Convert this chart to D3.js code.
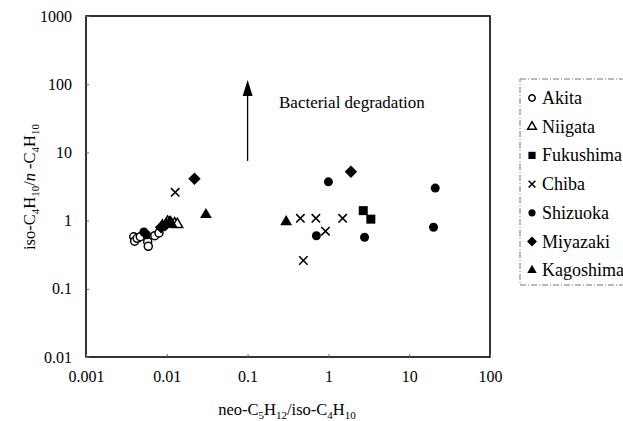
<!DOCTYPE html>
<html>
<head>
<meta charset="utf-8">
<script src="https://cdn.jsdelivr.net/npm/d3@7"></script>
<style>
body { margin: 0; background: #fff; }
text { font-family: "Liberation Serif", "Times New Roman", serif; fill: #000; }
</style>
</head>
<body>
<script>
// data
var xTicks = [0.001, 0.01, 0.1, 1, 10, 100];
var yTicks = [0.01, 0.1, 1, 10, 100, 1000];
var prefectures = ["Akita", "Niigata", "Fukushima", "Chiba", "Shizuoka", "Miyazaki", "Kagoshima"];

var akita = [[0.0039, 0.58], [0.0040, 0.50], [0.0043, 0.55], [0.0047, 0.58], [0.0058, 0.49], [0.0059, 0.42], [0.0071, 0.60], [0.0080, 0.66]];
var niigata = [[0.0102, 0.95], [0.0112, 0.92], [0.0125, 0.90], [0.0135, 0.88]];
var fukushima = [[2.7, 1.40], [3.35, 1.05]];
var chiba = [[0.0127, 2.6], [0.45, 1.08], [0.70, 1.08], [1.5, 1.08], [0.92, 0.70], [0.49, 0.26]];
var shizuoka = [[0.0052, 0.68], [0.0056, 0.62], [0.71, 0.60], [1.0, 3.7], [2.8, 0.57], [21, 3.0], [20, 0.80]];
var miyazaki = [[0.022, 4.1], [1.9, 5.2], [0.0085, 0.80], [0.0095, 0.85]];
var kagoshima = [[0.0305, 1.22], [0.30, 0.96], [0.0088, 0.85], [0.0098, 0.90], [0.0108, 0.95], [0.0115, 0.88]];
var arrowFrom = [0.1, 7.5];
var arrowTo = [0.1, 115];

var width = 623;
var height = 421;
var m = {left: 86, right: 133, top: 16, bottom: 64};
var serif = "Liberation Serif";

var svg = d3.select("body").append("svg")
	.attr("width", width)
	.attr("height", height);

var x = d3.scaleLog().domain([0.001, 100]).range([m.left, width - m.right]);
var y = d3.scaleLog().domain([0.01, 1000]).range([height - m.bottom, m.top]);

// frame
svg.append("rect")
	.attr("x", x(0.001)).attr("y", y(1000))
	.attr("width", x(100) - x(0.001)).attr("height", y(0.01) - y(1000))
	.attr("fill", "none").attr("stroke", "#000").attr("stroke-width", 1.6);

var fmt = function(d) { return String(d); };

var xAxis = svg.append("g")
	.attr("transform", "translate(0," + y(0.01) + ")")
	.call(d3.axisBottom(x).tickValues(xTicks).tickFormat(fmt).tickSizeInner(-3).tickSizeOuter(0).tickPadding(14));
var yAxis = svg.append("g")
	.attr("transform", "translate(" + x(0.001) + ",0)")
	.call(d3.axisLeft(y).tickValues(yTicks).tickFormat(fmt).tickSizeInner(-3).tickSizeOuter(0).tickPadding(14));
[xAxis, yAxis].forEach(function(g) {
	g.attr("font-family", serif);
	g.select(".domain").remove();
	g.selectAll(".tick line").attr("stroke", "#666");
	g.selectAll("text").attr("font-size", 16).attr("font-family", serif);
});

// axis titles
var xt = svg.append("text")
	.attr("x", 287).attr("y", 415)
	.attr("text-anchor", "middle").attr("font-size", 16.5).attr("font-family", serif);
xt.append("tspan").text("neo-C");
xt.append("tspan").text("5").attr("font-size", 11).attr("dy", 4);
xt.append("tspan").text("H").attr("dy", -4);
xt.append("tspan").text("12").attr("font-size", 11).attr("dy", 4);
xt.append("tspan").text("/iso-C").attr("dy", -4);
xt.append("tspan").text("4").attr("font-size", 11).attr("dy", 4);
xt.append("tspan").text("H").attr("dy", -4);
xt.append("tspan").text("10").attr("font-size", 11).attr("dy", 4);

var yt = svg.append("text")
	.attr("transform", "translate(35,187) rotate(-90)")
	.attr("text-anchor", "middle").attr("font-size", 16.5).attr("font-family", serif);
yt.append("tspan").text("iso-C");
yt.append("tspan").text("4").attr("font-size", 11).attr("dy", 4);
yt.append("tspan").text("H").attr("dy", -4);
yt.append("tspan").text("10").attr("font-size", 11).attr("dy", 4);
yt.append("tspan").text("/").attr("dy", -4);
yt.append("tspan").text("n").attr("font-style", "italic");
yt.append("tspan").text(" -C");
yt.append("tspan").text("4").attr("font-size", 11).attr("dy", 4);
yt.append("tspan").text("H").attr("dy", -4);
yt.append("tspan").text("10").attr("font-size", 11).attr("dy", 4);

// markers
function shape(name, s) {
	if (name == "Akita" || name == "Shizuoka") return d3.symbol(d3.symbolCircle, s * s * Math.PI / 4)();
	if (name == "Niigata" || name == "Kagoshima") return d3.symbol(d3.symbolTriangle, s * s * 0.5)();
	if (name == "Fukushima") return d3.symbol(d3.symbolSquare, s * s)();
	if (name == "Miyazaki") { var h = s * 0.62; return "M0," + (-h) + "L" + h + ",0L0," + h + "L" + (-h) + ",0Z"; }
	var c = s * 0.42;
	return "M" + (-c) + "," + (-c) + "L" + c + "," + c + "M" + c + "," + (-c) + "L" + (-c) + "," + c;
}
function style(sel, name) {
	if (name == "Akita" || name == "Niigata") sel.attr("fill", "#fff").attr("stroke", "#000").attr("stroke-width", 1.5);
	else if (name == "Chiba") sel.attr("fill", "none").attr("stroke", "#000").attr("stroke-width", 1.6);
	else sel.attr("fill", "#000").attr("stroke", "none");
}
var sizes = {Akita: 8, Niigata: 10, Fukushima: 9, Chiba: 10, Shizuoka: 9, Miyazaki: 10, Kagoshima: 11};
var series = [akita, niigata, fukushima, chiba, shizuoka, miyazaki, kagoshima];

series.forEach(function(pts, i) {
	var name = prefectures[i];
	svg.append("g").selectAll("path").data(pts).enter().append("path")
		.attr("transform", function(d) { return "translate(" + x(d[0]) + "," + y(d[1]) + ")"; })
		.attr("d", shape(name, sizes[name]))
		.call(style, name);
});

// arrow
svg.append("line")
	.attr("x1", x(arrowFrom[0])).attr("y1", y(arrowFrom[1]))
	.attr("x2", x(arrowTo[0])).attr("y2", y(arrowTo[1]) + 10)
	.attr("stroke", "#000").attr("stroke-width", 1.3);
svg.append("path")
	.attr("d", "M" + x(arrowTo[0]) + "," + y(arrowTo[1]) + "l5,16l-10,0z")
	.attr("fill", "#000");
svg.append("text")
	.attr("x", 279).attr("y", 108)
	.attr("font-size", 17).attr("font-family", serif)
	.text("Bacterial degradation");

// legend
var lg = svg.append("g").attr("transform", "translate(520,79)");
lg.append("rect")
	.attr("x", 0).attr("y", 0).attr("width", 120).attr("height", 206)
	.attr("fill", "#fff").attr("stroke", "#777").attr("stroke-width", 1)
	.attr("stroke-dasharray", "6,2,1,2");
prefectures.forEach(function(name, i) {
	var yy = 19 + i * 28.7;
	lg.append("path")
		.attr("transform", "translate(12," + yy + ")")
		.attr("d", shape(name, sizes[name] * 0.8))
		.call(style, name);
	lg.append("text")
		.attr("x", 22).attr("y", yy + 6)
		.attr("font-size", 18).attr("font-family", serif)
		.text(name);
});
</script>
</body>
</html>
